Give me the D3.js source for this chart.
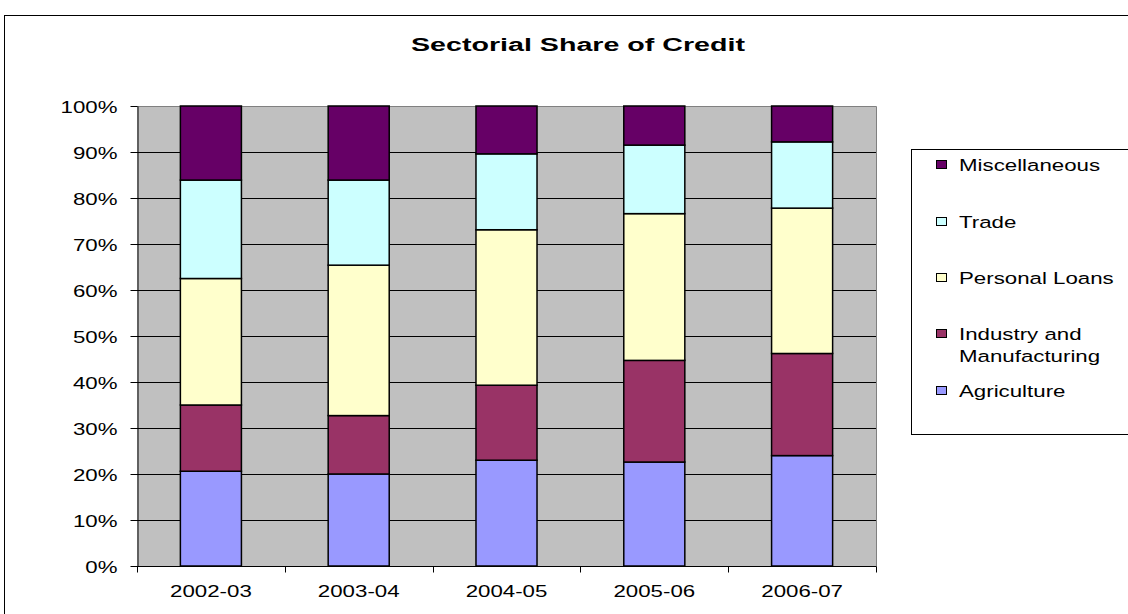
<!DOCTYPE html>
<html>
<head>
<meta charset="utf-8">
<script src="https://cdn.jsdelivr.net/npm/d3@7"></script>
<style>
  html, body { margin: 0; padding: 0; background: #fff; }
  svg { display: block; font-family: "Liberation Sans", Arial, sans-serif; }
</style>
</head>
<body>
<svg id="chart" width="1128" height="614"></svg>
<script>
// ---- Data ----
const categories = ["2002-03", "2003-04", "2004-05", "2005-06", "2006-07"];
const seriesNames = ["Agriculture", "Industry and Manufacturing", "Personal Loans", "Trade", "Miscellaneous"];
const agriculture   = [20.6, 20.0, 23.0, 22.6, 24.0];
const industry      = [14.4, 12.7, 16.3, 22.1, 22.2];
const personalLoans = [27.5, 32.7, 33.8, 31.9, 31.6];
const trade         = [21.4, 18.5, 16.5, 14.9, 14.4];
const miscellaneous = [16.1, 16.1, 10.4,  8.5,  7.8];
const yTicks = [0, 10, 20, 30, 40, 50, 60, 70, 80, 90, 100];
const title = "Sectorial Share of Credit";

const seriesValues = [agriculture, industry, personalLoans, trade, miscellaneous];
const colors = ["#9999FF", "#993366", "#FFFFCC", "#CCFFFF", "#660066"];

const table = categories.map((c, i) => {
  const row = { category: c };
  seriesNames.forEach((s, k) => { row[s] = seriesValues[k][i]; });
  return row;
});

// ---- Layout ----
const svg = d3.select("#chart");
const plot = { left: 137, right: 876, top: 106, bottom: 566 };
const SX = 1.35; // horizontal stretch of text
const FS = 16.5;

// outer frame (extends beyond right/bottom)
svg.append("rect").attr("x", 4.5).attr("y", 15.5).attr("width", 1200).attr("height", 700)
  .attr("fill", "#fff").attr("stroke", "#000").attr("stroke-width", 1);

// title
svg.append("text")
  .attr("x", 578).attr("y", 51)
  .attr("text-anchor", "middle")
  .attr("font-weight", "bold").attr("font-size", 18)
  .attr("textLength", 334).attr("lengthAdjust", "spacingAndGlyphs")
  .attr("fill", "#000")
  .text(title);

const x = d3.scaleBand().domain(categories).range([plot.left, plot.right])
  .paddingInner(0.587).paddingOuter(0.2935);
const y = d3.scaleLinear().domain([0, 100]).range([plot.bottom, plot.top]);

// plot background
svg.append("rect").attr("x", plot.left).attr("y", plot.top)
  .attr("width", plot.right - plot.left).attr("height", plot.bottom - plot.top)
  .attr("fill", "#C0C0C0");

// gridlines
svg.append("g").selectAll("line").data(yTicks.filter(d => d > 0 && d < 100)).join("line")
  .attr("x1", plot.left).attr("x2", plot.right)
  .attr("y1", d => Math.round(y(d)) + 0.5).attr("y2", d => Math.round(y(d)) + 0.5)
  .attr("stroke", "#000").attr("stroke-width", 1);

// top and right border (gray)
svg.append("path")
  .attr("d", `M${plot.left},${plot.top + 0.5}H${plot.right + 0.5}V${plot.bottom}`)
  .attr("fill", "none").attr("stroke", "#808080").attr("stroke-width", 1);

// stacked bars
const stack = d3.stack().keys(seriesNames);
const stacked = stack(table);
svg.append("g").selectAll("g").data(stacked).join("g")
  .attr("fill", (d, i) => colors[i])
  .selectAll("rect").data(d => d).join("rect")
  .attr("x", d => x(d.data.category))
  .attr("width", x.bandwidth())
  .attr("y", d => y(d[1]))
  .attr("height", d => y(d[0]) - y(d[1]))
  .attr("stroke", "#000").attr("stroke-width", 1.5);

// Y axis
const yAxis = svg.append("g").attr("transform", `translate(${plot.left + 0.5},0)`)
  .call(d3.axisLeft(y).tickValues(yTicks).tickFormat(d => d + "%").tickSize(7).tickSizeOuter(0));
yAxis.select(".domain").attr("stroke", "#000");
yAxis.selectAll(".tick line").attr("stroke", "#000");
yAxis.selectAll(".tick text")
  .attr("x", 0).attr("dy", "0.36em")
  .attr("transform", `translate(-20,0.5) scale(${SX},1)`)
  .attr("font-size", FS).attr("fill", "#000")
  .attr("font-family", "'Liberation Sans', Arial, sans-serif");

// X axis
const xAxis = svg.append("g").attr("transform", `translate(0,${plot.bottom + 0.5})`)
  .call(d3.axisBottom(x).tickSize(0).tickSizeOuter(0));
xAxis.select(".domain").attr("stroke", "#000").attr("d", `M${plot.left},0H${plot.right + 0.5}`);
xAxis.selectAll(".tick text")
  .attr("y", 0).attr("dy", 0)
  .attr("transform", `translate(0,30) scale(${SX},1)`)
  .attr("font-size", FS).attr("fill", "#000")
  .attr("font-family", "'Liberation Sans', Arial, sans-serif");
// boundary ticks between categories
const boundaries = d3.range(categories.length + 1).map(i => plot.left + i * x.step());
xAxis.append("g").selectAll("line").data(boundaries).join("line")
  .attr("x1", d => Math.round(d) + 0.5).attr("x2", d => Math.round(d) + 0.5)
  .attr("y1", 0).attr("y2", 6)
  .attr("stroke", "#000");

// Legend
const legend = svg.append("g");
legend.append("rect").attr("x", 911.5).attr("y", 149.5).attr("width", 300).attr("height", 285)
  .attr("fill", "#fff").attr("stroke", "#000").attr("stroke-width", 1);
const legendItems = [
  { name: "Miscellaneous", lines: ["Miscellaneous"], y: 165 },
  { name: "Trade", lines: ["Trade"], y: 222 },
  { name: "Personal Loans", lines: ["Personal Loans"], y: 278 },
  { name: "Industry and Manufacturing", lines: ["Industry and", "Manufacturing"], y: 334 },
  { name: "Agriculture", lines: ["Agriculture"], y: 391 }
];
legendItems.forEach(item => {
  const k = seriesNames.indexOf(item.name);
  const g = legend.append("g");
  g.append("rect").attr("x", 936.5).attr("y", item.y - 4.5).attr("width", 10).attr("height", 8)
    .attr("fill", colors[k]).attr("stroke", "#000").attr("stroke-width", 1);
  item.lines.forEach((ln, j) => {
    g.append("text")
      .attr("transform", `translate(959,${item.y + j * 22}) scale(${SX},1)`)
      .attr("dy", "0.36em")
      .attr("font-size", FS).attr("fill", "#000")
      .text(ln);
  });
});
</script>
</body>
</html>
